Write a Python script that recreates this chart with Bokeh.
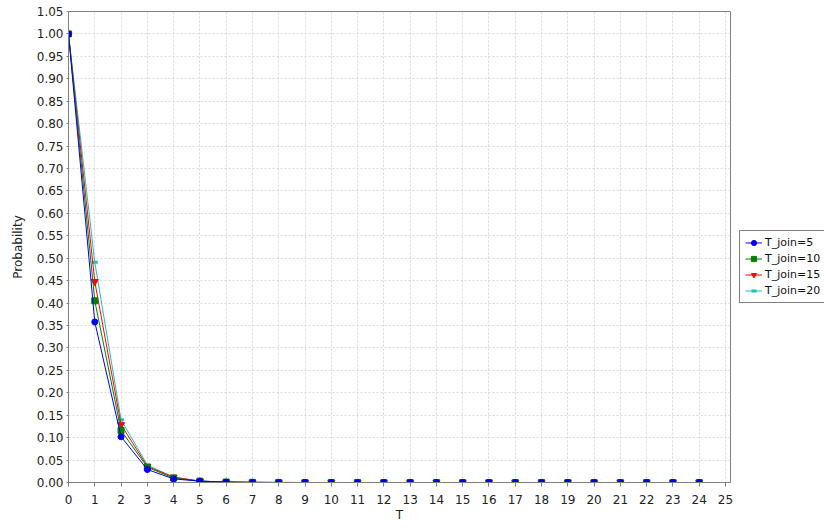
from bokeh.plotting import figure
from bokeh.layouts import row
from bokeh.models import Range1d, FixedTicker, PrintfTickFormatter, Legend, LegendItem
from bokeh.embed import file_html
from bokeh.resources import INLINE

# ---- data ----
t_values = list(range(25))
series_names = ["T_join=5", "T_join=10", "T_join=15", "T_join=20"]
p_join5 = [1.0, 0.358, 0.102, 0.029, 0.008, 0.003, 0.001, 0.0003, 0.0001, 0.0, 0.0, 0.0, 0.0,
           0.0, 0.0, 0.0, 0.0, 0.0, 0.0, 0.0, 0.0, 0.0, 0.0, 0.0, 0.0]
p_join10 = [1.0, 0.405, 0.116, 0.034, 0.010, 0.003, 0.001, 0.0003, 0.0001, 0.0, 0.0, 0.0, 0.0,
            0.0, 0.0, 0.0, 0.0, 0.0, 0.0, 0.0, 0.0, 0.0, 0.0, 0.0, 0.0]
p_join15 = [1.0, 0.448, 0.129, 0.036, 0.012, 0.003, 0.001, 0.0003, 0.0001, 0.0, 0.0, 0.0, 0.0,
            0.0, 0.0, 0.0, 0.0, 0.0, 0.0, 0.0, 0.0, 0.0, 0.0, 0.0, 0.0]
p_join20 = [1.0, 0.491, 0.140, 0.039, 0.012, 0.003, 0.001, 0.0003, 0.0001, 0.0, 0.0, 0.0, 0.0,
            0.0, 0.0, 0.0, 0.0, 0.0, 0.0, 0.0, 0.0, 0.0, 0.0, 0.0, 0.0]
x_ticks = list(range(26))
y_ticks = [round(i * 0.05, 2) for i in range(22)]

FONT = "DejaVu Sans"
colors = ["#0000ee", "#008000", "#ff0000", "#1fbfc4"]
markers = ["circle", "square", "inverted_triangle", "dash"]
sizes = [6, 6, 7, 6]

H = 524
p = figure(width=735, height=H, output_backend="svg", toolbar_location=None,
           x_range=Range1d(0, 25.19), y_range=Range1d(0, 1.05),
           min_border_left=68, min_border_right=5, min_border_top=11, min_border_bottom=41)
p.background_fill_color = "white"
p.border_fill_color = "white"
p.outline_line_color = "#808080"
p.outline_line_width = 1

for ax in (p.xaxis, p.yaxis):
    ax.axis_line_color = "#808080"
    ax.major_tick_line_color = "#808080"
    ax.minor_tick_line_color = None
    ax.major_label_text_font = FONT
    ax.major_label_text_font_size = "12px"
    ax.major_label_text_color = "#222222"
    ax.axis_label_text_font = FONT
    ax.axis_label_text_font_size = "12px"
    ax.axis_label_text_font_style = "normal"
    ax.axis_label_text_color = "#222222"
    ax.major_tick_in = 0

p.xaxis.ticker = FixedTicker(ticks=x_ticks)
p.yaxis.ticker = FixedTicker(ticks=y_ticks)
p.yaxis.formatter = PrintfTickFormatter(format="%.2f")
p.xaxis.axis_label = "T"
p.yaxis.axis_label = "Probability"
p.xaxis.major_tick_out = 4
p.xaxis.major_label_standoff = 8
p.xaxis.axis_label_standoff = 1
p.yaxis.major_tick_out = 2
p.yaxis.major_label_standoff = 3
p.yaxis.axis_label_standoff = 9

for g in (p.xgrid, p.ygrid):
    g.grid_line_color = "#d9d9d9"
    g.grid_line_dash = "2 2"
    g.grid_line_width = 1

all_series = list(zip(series_names, [p_join5, p_join10, p_join15, p_join20], colors, markers, sizes))


def draw(fig, ys, c, m, s):
    ln = fig.line(t_values, ys, line_color=c, line_width=1)
    if m == "dash":
        sc = fig.scatter(t_values, ys, marker=m, size=s, line_color=c, line_width=3)
    else:
        sc = fig.scatter(t_values, ys, marker=m, size=s, fill_color=c, line_color=c)
    return ln, sc


# series 0 drawn last (on top)
for name, ys, c, m, s in reversed(all_series):
    draw(p, ys, c, m, s)

# legend panel: a small figure to the right whose view range lies outside the data,
# so its copies of the series only serve as legend glyphs
lf = figure(width=89, height=H, output_backend="svg", toolbar_location=None,
            x_range=Range1d(-100, -99), y_range=Range1d(-100, -99),
            x_axis_location=None, y_axis_location=None,
            min_border_left=0, min_border_right=0, min_border_top=0, min_border_bottom=0)
lf.grid.visible = False
lf.outline_line_color = None
lf.background_fill_color = "white"
lf.border_fill_color = "white"

items = []
for name, ys, c, m, s in all_series:
    ln, sc = draw(lf, ys, c, m, s)
    items.append(LegendItem(label=name, renderers=[ln, sc]))

legend = Legend(items=items, location=(4, 179), margin=0, padding=5, spacing=3,
                glyph_width=17, glyph_height=13, label_standoff=3,
                label_text_font=FONT, label_text_font_size="11px", label_text_color="#111111",
                label_height=13,
                border_line_color="black", border_line_width=1,
                background_fill_color="white", background_fill_alpha=1.0)
lf.add_layout(legend, "center")

layout = row(p, lf)
open("out.html", "w").write(file_html(layout, INLINE))
